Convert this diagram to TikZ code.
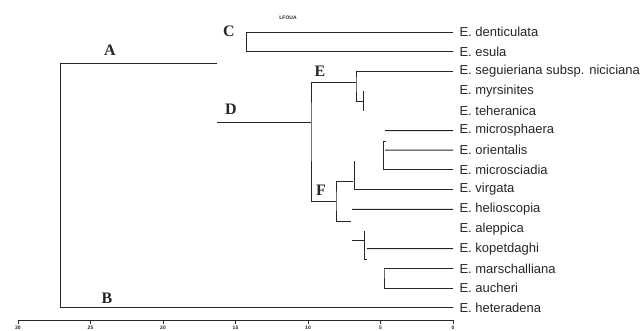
\documentclass[tikz,border=0pt]{standalone}
\usepackage{fontspec}
\setmainfont{Liberation Sans}
\newfontfamily\clusterfont{Liberation Serif}
\begin{document}
\begin{tikzpicture}[x=1pt,y=-1pt,line width=1pt,color=black!85,
  leaf/.style={anchor=west,inner sep=0pt,font=\fontsize{13}{13}\selectfont},
  clab/.style={inner sep=0pt,font=\clusterfont\bfseries\fontsize{16}{16}\selectfont},
  tlab/.style={inner sep=0pt,font=\bfseries\fontsize{5}{5}\selectfont}]
\useasboundingbox (0,0) rectangle (640,330);
\clip (0,0) rectangle (640,330);
% species
\foreach \n/\name in {1/denticulata,2/esula,3/seguieriana subsp. niciciana,
  4/myrsinites,5/teheranica,6/microsphaera,7/orientalis,8/microsciadia,
  9/virgata,10/helioscopia,11/aleppica,12/kopetdaghi,13/marschalliana,
  14/aucheri,15/heteradena}
{
\node[leaf] (n\n) at (459,{32+19.7*(\n-1)}) {E. \name};
\coordinate (e\n) at ([xshift=-6pt]n\n.west);
}
% cluster labels
\node[clab] (A) at (110,50) {A};
\node[clab] (B) at (107,298) {B};
\node[clab] (C) at (229,31) {C};
\node[clab] (D) at (231,109) {D};
\node[clab] (E) at (320,71) {E};
\node[clab] (F) at (321,190) {F};
\node[tlab] (top) at (288,18) {LFOUA};
% joins
\coordinate (jA) at (60,63);
\coordinate (jAe) at (217,63);
\coordinate (jC) at (246,32);
\coordinate (jD) at (217,122);
\coordinate (jDF) at (311,122);
\coordinate (jE) at (356,82);
\coordinate (jF) at (336,201);
% A, B, C
\draw (jA) -- (jAe);
\draw (jA) |- (e15);
\draw (e1) -- (jC) |- (e2);
% D
\draw (jD) -- (jDF);
\draw (jE) -| (jDF) |- (jF);
% E
\draw (e3) -| (jE) -- (356,101) -- (363,101);
\draw (363,91) -- (363,111);
% F
\draw (385,130.5) -- (e6);
\draw (386,141) -- (383,141) |- (e8);
\draw (385,150.2) -- (e7);
\draw (353,181) -| (jF) |- (351,221);
\draw (354,161) |- (e9);
\draw (352,209.3) -- (e10);
\draw (352,240) -- (364,240);
\draw (364,231) -- (364,259) -- (367,259);
\draw (367,248.7) -- (e12);
\draw (e13) -| (384,268.4) |- (e14);
% scale
\draw (18,320) -- (453,320);
\foreach \x/\t in {18/30,90.5/25,163/20,235.5/15,308/10,380.5/5,453/0}
{
\draw (\x,320) -- (\x,324);
\node[tlab] at (\x,327.5) {\t};
}
\end{tikzpicture}
\end{document}
